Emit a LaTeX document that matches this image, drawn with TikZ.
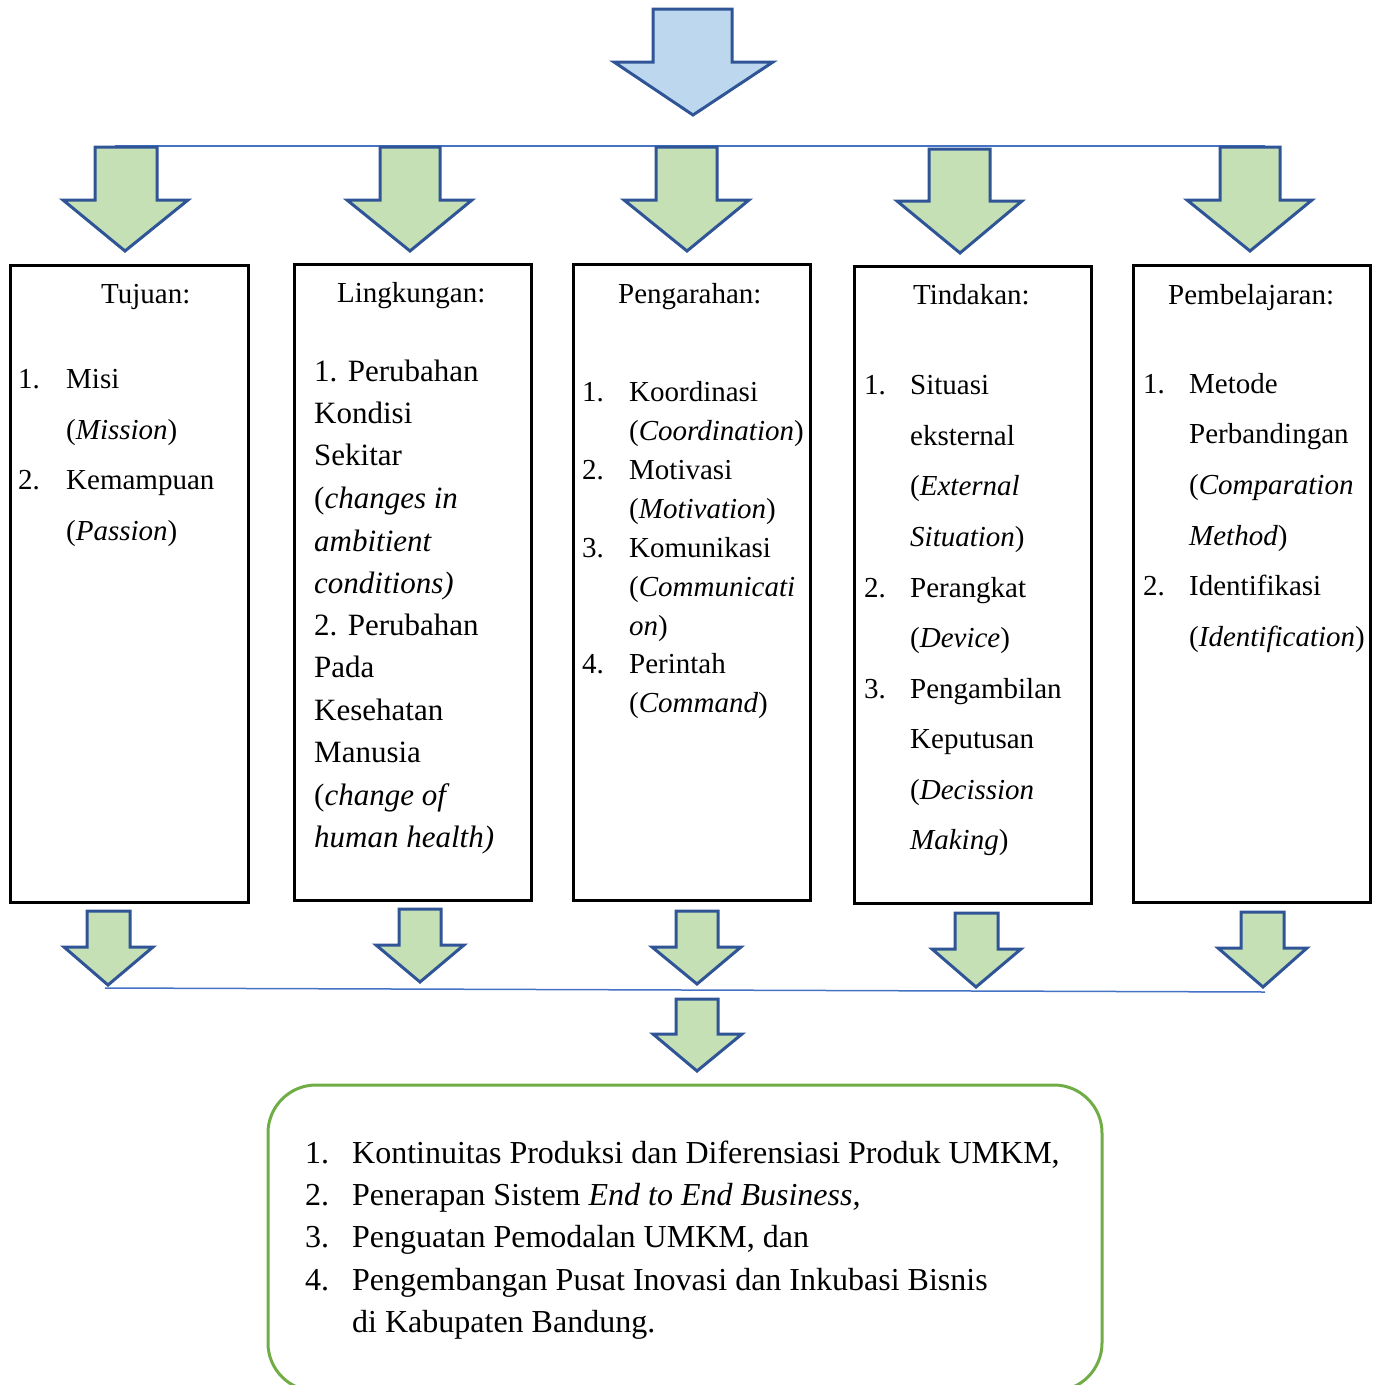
\documentclass[tikz,border=0pt]{standalone}
\usepackage{fontspec}
\setmainfont{Liberation Serif}
\definecolor{arrowline}{HTML}{2F5597}
\definecolor{greenfill}{HTML}{C5E0B4}
\definecolor{bluefill}{HTML}{BDD7EE}
\definecolor{hline}{HTML}{4472C4}
\definecolor{boxgreen}{HTML}{70AD47}
\newcommand{\dnarrow}[9]{%
  \draw[#1] (#3,#4) -- (#3,#5) -- (#6,#5) -- (#2,#8) -- (#7,#5) -- (#9,#5) -- (#9,#4) -- cycle;}
\begin{document}
\begin{tikzpicture}[x=1pt,y=-1pt,
  bluearrow/.style={draw=arrowline,fill=bluefill,line width=3pt,line join=miter},
  greenarrow/.style={draw=arrowline,fill=greenfill,line width=3pt,line join=miter},
  colbox/.style={draw=black,line width=2.5pt},
  connline/.style={draw=hline,line width=1.5pt},
  txt/.style={anchor=base west,inner sep=0pt,font=\fontsize{29}{35}\selectfont},
  txtb/.style={anchor=base west,inner sep=0pt,font=\fontsize{31}{37}\selectfont},
  txtc/.style={anchor=base west,inner sep=0pt,font=\fontsize{32}{38}\selectfont}]
\useasboundingbox (0,0) rectangle (1383,1385);
\begin{scope}
\clip (0,0) rectangle (1383,1385);
% top blue arrow
\dnarrow{bluearrow}{693}{653}{9}{62}{614}{773}{115}{732}
% top line
\coordinate (tl) at (115,146);
\coordinate (tr) at (1265,146);
\draw[connline] (tl) -- (tr);
% top green arrows
\dnarrow{greenarrow}{125}{95}{147}{200}{63}{188}{251}{157}
\dnarrow{greenarrow}{410}{380}{147}{200}{347}{472}{251}{440}
\dnarrow{greenarrow}{687}{656}{147}{200}{624}{749}{251}{717}
\dnarrow{greenarrow}{960}{929}{149}{201}{897}{1022}{253}{990}
\dnarrow{greenarrow}{1250}{1220}{147}{200}{1187}{1312}{251}{1280}
% boxes
\node[colbox,minimum width=238pt,minimum height=637pt,anchor=north west] (b1) at (9,264) {};
\node[colbox,minimum width=237pt,minimum height=636pt,anchor=north west] (b2) at (293,263) {};
\node[colbox,minimum width=237pt,minimum height=636pt,anchor=north west] (b3) at (572,263) {};
\node[colbox,minimum width=237pt,minimum height=637pt,anchor=north west] (b4) at (853,265) {};
\node[colbox,minimum width=237pt,minimum height=637pt,anchor=north west] (b5) at (1132,264) {};
% box 1
\node[txt] (t1) at (101,303) {Tujuan:};
\node[txt] (t1n1) at (18,388) {1.};
\node[txt] (t1a) at (66,388) {Misi};
\node[txt] (t1b) at (66,439) {(\textit{Mission})};
\node[txt] (t1n2) at (18,489) {2.};
\node[txt] (t1c) at (66,489) {Kemampuan};
\node[txt] (t1d) at (66,540) {(\textit{Passion})};
% box 2
\node[txt] (t2) at (337,302) {Lingkungan:};
\node[txtb] (t2a) at (314,381) {1. Perubahan};
\node[txtb] (t2b) at (314,423) {Kondisi};
\node[txtb] (t2c) at (314,465) {Sekitar};
\node[txtb] (t2d) at (314,508) {(\textit{changes in}};
\node[txtb] (t2e) at (314,551) {\textit{ambitient}};
\node[txtb] (t2f) at (314,593) {\textit{conditions)}};
\node[txtb] (t2g) at (314,635) {2. Perubahan};
\node[txtb] (t2h) at (314,677) {Pada};
\node[txtb] (t2i) at (314,720) {Kesehatan};
\node[txtb] (t2j) at (314,762) {Manusia};
\node[txtb] (t2k) at (314,805) {(\textit{change of}};
\node[txtb] (t2l) at (314,847) {\textit{human health)}};
% box 3
\node[txt] (t3) at (618,303) {Pengarahan:};
\node[txt] (t3n1) at (582,401) {1.};
\node[txt] (t3a) at (629,401) {Koordinasi};
\node[txt] (t3b) at (629,440) {(\textit{Coordination})};
\node[txt] (t3n2) at (582,479) {2.};
\node[txt] (t3c) at (629,479) {Motivasi};
\node[txt] (t3d) at (629,518) {(\textit{Motivation})};
\node[txt] (t3n3) at (582,557) {3.};
\node[txt] (t3e) at (629,557) {Komunikasi};
\node[txt] (t3f) at (629,596) {(\textit{Communicati}};
\node[txt] (t3g) at (629,635) {\textit{on})};
\node[txt] (t3n4) at (582,673) {4.};
\node[txt] (t3h) at (629,673) {Perintah};
\node[txt] (t3i) at (629,712) {(\textit{Command})};
% box 4
\node[txt] (t4) at (913,304) {Tindakan:};
\node[txt] (t4n1) at (864,394) {1.};
\node[txt] (t4a) at (910,394) {Situasi};
\node[txt] (t4b) at (910,445) {eksternal};
\node[txt] (t4c) at (910,495) {(\textit{External}};
\node[txt] (t4d) at (910,546) {\textit{Situation})};
\node[txt] (t4n2) at (864,597) {2.};
\node[txt] (t4e) at (910,597) {Perangkat};
\node[txt] (t4f) at (910,647) {(\textit{Device})};
\node[txt] (t4n3) at (864,698) {3.};
\node[txt] (t4g) at (910,698) {Pengambilan};
\node[txt] (t4h) at (910,748) {Keputusan};
\node[txt] (t4i) at (910,799) {(\textit{Decission}};
\node[txt] (t4j) at (910,849) {\textit{Making})};
% box 5
\node[txt] (t5) at (1168,304) {Pembelajaran:};
\node[txt] (t5n1) at (1143,393) {1.};
\node[txt] (t5a) at (1189,393) {Metode};
\node[txt] (t5b) at (1189,443) {Perbandingan};
\node[txt] (t5c) at (1189,494) {(\textit{Comparation}};
\node[txt] (t5d) at (1189,545) {\textit{Method})};
\node[txt] (t5n2) at (1143,595) {2.};
\node[txt] (t5e) at (1189,595) {Identifikasi};
\node[txt] (t5f) at (1189,646) {(\textit{Identification})};
% bottom small arrows
\dnarrow{greenarrow}{108}{87}{911}{947}{64}{153}{985}{130}
\dnarrow{greenarrow}{420}{399}{909}{945}{376}{464}{982}{441}
\dnarrow{greenarrow}{697}{676}{911}{947}{652}{741}{984}{718}
\dnarrow{greenarrow}{976}{955}{913}{949}{932}{1021}{987}{998}
\dnarrow{greenarrow}{1263}{1241}{912}{948}{1218}{1307}{987}{1284}
% bottom line
\coordinate (bl) at (105,988);
\coordinate (br) at (1265,992);
\draw[connline] (bl) -- (br);
% center arrow
\dnarrow{greenarrow}{697}{676}{999}{1034}{653}{742}{1071}{718}
% result box
\draw[draw=boxgreen,line width=3pt,rounded corners=48pt] (268,1085) rectangle (1102,1391);
\node[txtc] (r1n) at (305,1163) {1.};
\node[txtc] (r1) at (352,1163) {Kontinuitas Produksi dan Diferensiasi Produk UMKM,};
\node[txtc] (r2n) at (305,1205) {2.};
\node[txtc] (r2) at (352,1205) {Penerapan Sistem \textit{End to End Business,}};
\node[txtc] (r3n) at (305,1247) {3.};
\node[txtc] (r3) at (352,1247) {Penguatan Pemodalan UMKM, dan};
\node[txtc] (r4n) at (305,1290) {4.};
\node[txtc] (r4) at (352,1290) {Pengembangan Pusat Inovasi dan Inkubasi Bisnis};
\node[txtc] (r5) at (352,1332) {di Kabupaten Bandung.};
\end{scope}
\end{tikzpicture}
\end{document}
